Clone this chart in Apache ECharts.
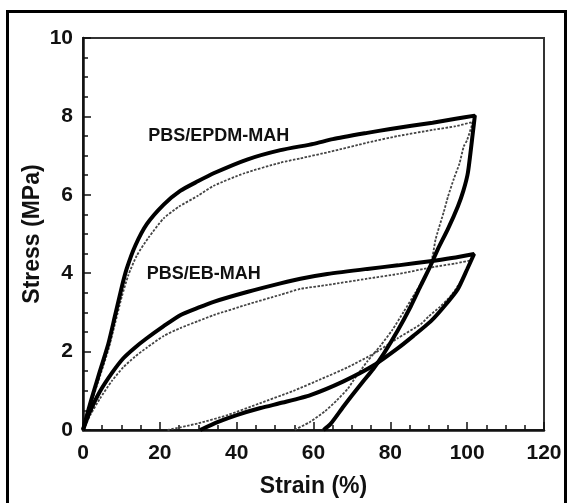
<!DOCTYPE html>
<html><head><meta charset="utf-8">
<script src="https://cdn.jsdelivr.net/npm/echarts@6/dist/echarts.min.js"></script>
<style>html,body{margin:0;padding:0;background:#fff}#c{width:572px;height:503px}</style>
</head><body><div id="c"></div>
<script>
// Axis ticks
const xTickValues = [0, 20, 40, 60, 80, 100, 120];
const yTickValues = [0, 2, 4, 6, 8, 10];

// PBS/EPDM-MAH, solid curve: [strain %, stress MPa] loading then unloading
const epdmSolid = [
  [0,0],[1.5,0.55],[2.7,0.95],[4.4,1.5],[6.6,2.2],[8.3,2.9],[10.1,3.65],[11.4,4.12],[13.6,4.7],
  [16.6,5.25],[21,5.75],[25.3,6.1],[30,6.35],[34,6.55],[42.7,6.9],[51.4,7.14],[60,7.3],[65,7.42],
  [74,7.58],[80,7.68],[91,7.84],[97,7.94],[102,8.02],
  [101.5,7.6],[100.2,6.57],[99,6.1],[97.6,5.71],[95,5.13],[92.4,4.62],[90.5,4.2],[88,3.7],
  [85.3,3.15],[82,2.55],[78.3,1.95],[75.5,1.55],[73,1.25],[70,0.88],[67.8,0.6],[64.4,0.15],[62.6,0]
];
// PBS/EPDM-MAH, dotted curve
const epdmDotted = [
  [0,0],[2.5,0.8],[4.5,1.4],[6.6,2.05],[8.3,2.7],[10.1,3.4],[11.8,3.95],[14,4.45],[17,4.9],
  [21,5.4],[25,5.7],[30,5.98],[34,6.23],[42,6.55],[51.4,6.82],[56.6,6.93],[64.4,7.1],[74,7.33],
  [82,7.5],[91.3,7.66],[97,7.75],[101.5,7.86],
  [100,7.4],[99.1,7.23],[98,6.8],[96.5,6.4],[95,5.95],[93.9,5.56],[91.8,4.87],[91,4.44],[89.7,4.04],
  [86.5,3.5],[83.5,3.02],[80.5,2.55],[77.5,2.16],[74,1.75],[71,1.35],[68.9,1.05],[66,0.75],
  [63,0.48],[59,0.2],[55,0]
];
// PBS/EB-MAH, solid curve
const ebSolid = [
  [0,0],[1.5,0.4],[4.4,0.98],[7.5,1.45],[10.5,1.83],[13.5,2.1],[16.6,2.34],[21,2.65],[25.3,2.93],
  [30,3.12],[34,3.27],[42.7,3.52],[51.4,3.74],[56.6,3.86],[63.6,3.98],[74,4.11],[82,4.2],
  [91.4,4.32],[97,4.4],[101.8,4.49],
  [100,4.1],[97.6,3.6],[94,3.15],[90.5,2.77],[86,2.4],[81.9,2.08],[75.7,1.65],[67.8,1.24],
  [59.2,0.89],[52,0.7],[46.2,0.56],[40,0.38],[35,0.2],[30.5,0]
];
// PBS/EB-MAH, dotted curve
const ebDotted = [
  [0,0],[2,0.4],[4.4,0.8],[7.5,1.25],[10.5,1.6],[13.5,1.87],[16.6,2.1],[21,2.4],[25.3,2.6],
  [30,2.78],[34,2.93],[42.7,3.2],[51.4,3.45],[56.6,3.6],[63.6,3.7],[74,3.86],[82,3.98],
  [91.4,4.16],[97,4.25],[101,4.33],
  [99,3.9],[96,3.45],[93,3.15],[90,2.9],[87.9,2.7],[81.9,2.34],[75.7,1.95],[68.9,1.6],
  [62,1.3],[54.8,1.0],[46,0.68],[37.6,0.38],[30,0.17],[22,0]
];
// Annotation texts and anchor (data coords of left/centre)
const labelTexts = ['PBS/EPDM-MAH', 'PBS/EB-MAH'];
const labelAnchors = [[17, 7.49], [16.6, 3.98]];

const FONT = '"Liberation Sans", Arial, sans-serif';
const chart = echarts.init(document.getElementById('c'));
const tickLabel = {fontFamily: FONT, fontWeight: 'bold', fontSize: 21, color: '#111'};
const titleStyle = {fontFamily: FONT, fontWeight: 'bold', fontSize: 23, color: '#111'};

function solid(data){return {type:'line',data,showSymbol:false,smooth:0.2,
  lineStyle:{color:'#000',width:4},z:3,silent:true};}
function dotted(data){return {type:'line',data,showSymbol:false,smooth:0.2,
  lineStyle:{color:'#444',width:1.8,type:[2.5,1.5]},z:2,silent:true};}

chart.setOption({
  animation:false,
  grid:{left:83,top:38,right:28,bottom:71,show:true,borderColor:'#333',borderWidth:2,backgroundColor:'transparent'},
  xAxis:{type:'value',min:xTickValues[0],max:xTickValues[xTickValues.length-1],interval:20,
    name:'Strain (%)',nameLocation:'middle',nameGap:45,nameMoveOverlap:false,
    nameTextStyle:titleStyle,
    axisLine:{lineStyle:{color:'#111',width:2.5}},
    axisTick:{inside:true,length:8,lineStyle:{color:'#111',width:1.5}},
    minorTick:{show:true,splitNumber:4,length:5,lineStyle:{color:'#111',width:1.5}},
    splitLine:{show:false},
    axisLabel:{...tickLabel,margin:13}},
  yAxis:{type:'value',min:yTickValues[0],max:yTickValues[yTickValues.length-1],interval:2,
    name:'Stress (MPa)',nameLocation:'middle',nameGap:39,nameMoveOverlap:false,
    nameTextStyle:titleStyle,
    axisLine:{lineStyle:{color:'#111',width:2.5}},
    axisTick:{inside:true,length:8,lineStyle:{color:'#111',width:1.5}},
    minorTick:{show:true,splitNumber:4,length:5,lineStyle:{color:'#111',width:1.5}},
    splitLine:{show:false},
    axisLabel:{...tickLabel,margin:10}},
  series:[dotted(epdmDotted),solid(epdmSolid),dotted(ebDotted),solid(ebSolid)]
});

const g = [{type:'rect',shape:{x:7.5,y:11.5,width:558,height:520},
  style:{fill:'none',stroke:'#000',lineWidth:3},silent:true}];
labelTexts.forEach((t,i)=>{
  const p = chart.convertToPixel({gridIndex:0}, labelAnchors[i]);
  g.push({type:'text',x:p[0],y:p[1],style:{text:t,fontFamily:FONT,fontWeight:'bold',
    fontSize:18,fill:'#111',align:'left',verticalAlign:'middle'}});
});
chart.setOption({graphic:g});
</script></body></html>
